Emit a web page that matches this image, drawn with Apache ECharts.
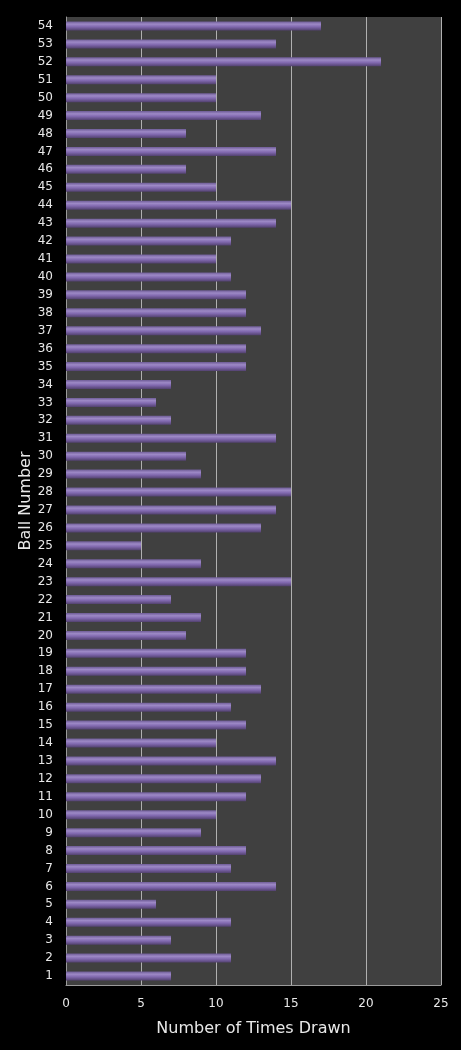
<!DOCTYPE html>
<html>
<head>
<meta charset="utf-8">
<script src="https://cdn.jsdelivr.net/npm/echarts@6/dist/echarts.min.js"></script>
<style>
  html, body { margin: 0; padding: 0; background: #000; }
  #chart { width: 461px; height: 1050px; }
</style>
</head>
<body>
<div id="chart"></div>
<script>
// ball numbers 1..54, bottom to top
var balls = [
  "1","2","3","4","5","6","7","8","9","10",
  "11","12","13","14","15","16","17","18","19","20",
  "21","22","23","24","25","26","27","28","29","30",
  "31","32","33","34","35","36","37","38","39","40",
  "41","42","43","44","45","46","47","48","49","50",
  "51","52","53","54"
];
var timesDrawn = [
  7, 11, 7, 11, 6, 14, 11, 12, 9, 10,
  12, 13, 14, 10, 12, 11, 13, 12, 12, 8,
  9, 7, 15, 9, 5, 13, 14, 15, 9, 8,
  14, 7, 6, 7, 12, 12, 13, 12, 12, 11,
  10, 11, 14, 15, 10, 8, 14, 8, 13, 10,
  10, 21, 14, 17
];
var xTicks = [0, 5, 10, 15, 20, 25];

var chart = echarts.init(document.getElementById("chart"));
var font = "DejaVu Sans, Verdana, sans-serif";

chart.setOption({
  backgroundColor: "#000",
  animation: false,
  grid: {
    left: 66, right: 20, top: 17, bottom: 65,
    show: true, backgroundColor: "#404040", borderWidth: 0
  },
  xAxis: {
    type: "value",
    min: xTicks[0],
    max: xTicks[xTicks.length - 1],
    interval: 5,
    name: "Number of Times Drawn",
    nameLocation: "middle",
    nameGap: 36,
    nameTextStyle: { color: "#e8e8e8", fontSize: 16, fontFamily: font },
    axisLine: { show: true, lineStyle: { color: "#9a9a9a", width: 1 } },
    axisTick: { show: false },
    axisLabel: { color: "#e8e8e8", fontSize: 12, fontFamily: font, margin: 13 },
    splitLine: { show: true, lineStyle: { color: "#b0b0b0", width: 1 } }
  },
  yAxis: {
    type: "category",
    data: balls,
    name: "Ball Number",
    nameLocation: "middle",
    nameGap: 32,
    nameMoveOverlap: false,
    nameTextStyle: { color: "#e8e8e8", fontSize: 16, fontFamily: font },
    axisLine: { show: true, lineStyle: { color: "#9a9a9a", width: 1 } },
    axisTick: { show: false },
    axisLabel: { color: "#e8e8e8", fontSize: 12, fontFamily: font, margin: 13, interval: 0 }
  },
  series: [{
    type: "bar",
    data: timesDrawn,
    barWidth: 9,
    itemStyle: {
      color: new echarts.graphic.LinearGradient(0, 0, 0, 1, [
        { offset: 0, color: "#6e5c96" },
        { offset: 0.3, color: "#9d89c6" },
        { offset: 0.6, color: "#8068ae" },
        { offset: 1, color: "#52416f" }
      ])
    }
  }]
});
</script>
</body>
</html>
